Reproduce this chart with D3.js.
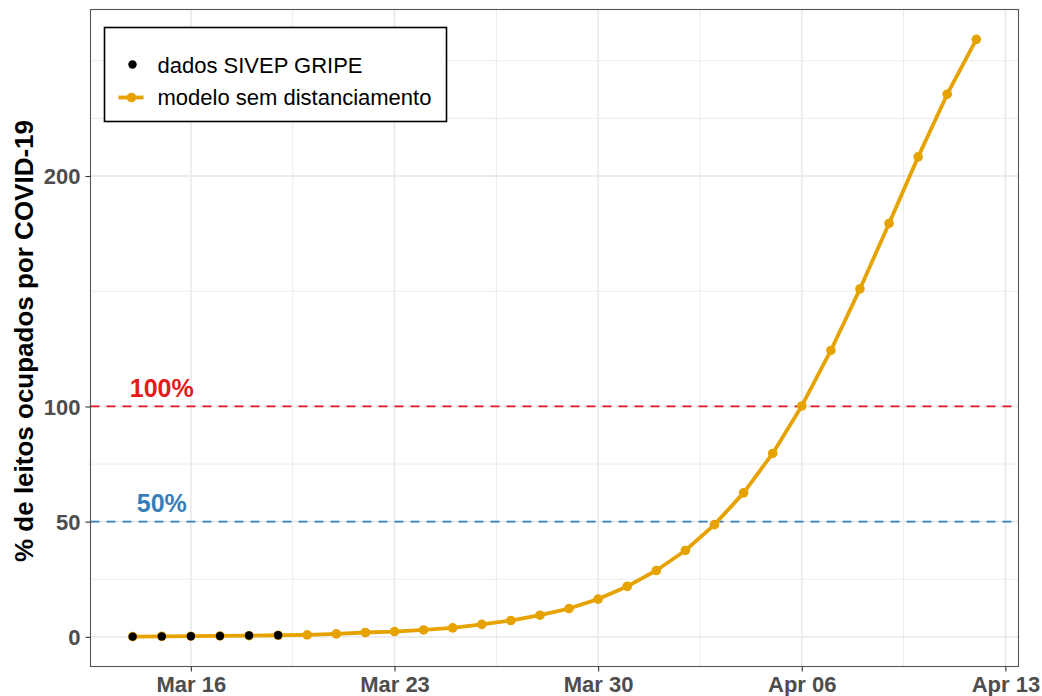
<!DOCTYPE html>
<html lang="pt">
<head>
  <meta charset="UTF-8">
  <script type="text/javascript" src="https://cdn.jsdelivr.net/npm/d3@7"></script>
  <title>Leitos ocupados</title>
  <style>
    body { margin: 0; background: #fff; }
    svg { display: block; font-family: "Liberation Sans", Arial, Helvetica, sans-serif; }
    .axis path { display: none; }
    .axis line { stroke: #333; stroke-width: 1.1; }
    .axis text { font-size: 22px; font-weight: bold; fill: #4d4d4d; }
  </style>
</head>
<body>
<div id="chart"></div>
<script>
  // dias da serie (14 mar a 12 abr 2020)
  var dates = ["2020-03-14","2020-03-15","2020-03-16","2020-03-17","2020-03-18","2020-03-19",
    "2020-03-20","2020-03-21","2020-03-22","2020-03-23","2020-03-24","2020-03-25","2020-03-26",
    "2020-03-27","2020-03-28","2020-03-29","2020-03-30","2020-03-31","2020-04-01","2020-04-02",
    "2020-04-03","2020-04-04","2020-04-05","2020-04-06","2020-04-07","2020-04-08","2020-04-09",
    "2020-04-10","2020-04-11","2020-04-12"];

  // modelo sem distanciamento
  var modelo = [0.1, 0.2, 0.3, 0.4, 0.5, 0.7, 0.9, 1.3, 1.9, 2.3, 3.0, 3.9, 5.4, 7.1, 9.4,
    12.3, 16.4, 21.9, 28.8, 37.5, 48.7, 62.5, 79.6, 100.2, 124.3, 151, 179.4, 208.3, 235.5, 259.3];

  // dados SIVEP GRIPE (primeiros dias)
  var obsDates = dates.slice(0, 6);
  var sivep = [0.1, 0.2, 0.3, 0.4, 0.6, 0.7];

  var yTicks = [0, 50, 100, 200];
  var xTicks = ["2020-03-16","2020-03-23","2020-03-30","2020-04-06","2020-04-13"];

  var refValues = [100, 50];
  var refLabels = ["100%", "50%"];
  var refLabelDate = "2020-03-15";

  var W = 1042, H = 696;
  var pLeft = 90.5, pRight = 1018.5, pTop = 9.5, pBottom = 666.5;

  var parse = d3.timeParse("%Y-%m-%d");

  var svg = d3.select("#chart").append("svg")
    .attr("width", W).attr("height", H);

  var t0 = parse(dates[0]), t1 = parse(dates[dates.length - 1]);
  var xPad = (t1 - t0) * 0.05;
  var x = d3.scaleTime()
    .domain([new Date(+t0 - xPad), new Date(+t1 + xPad)])
    .range([pLeft, pRight]);

  var yMin = d3.min(modelo.concat(sivep)), yMax = d3.max(modelo.concat(sivep));
  var yPad = (yMax - yMin) * 0.05;
  var y = d3.scaleLinear()
    .domain([yMin - yPad, yMax + yPad])
    .range([pBottom, pTop]);

  // grade menor
  var yMinor = [25, 75, 150, 225, 250];
  var xMinor = [];
  for (var i = 0; i < xTicks.length - 1; i++) {
    xMinor.push(new Date((+parse(xTicks[i]) + +parse(xTicks[i + 1])) / 2));
  }

  var grid = svg.append("g");
  grid.selectAll(".ymin").data(yMinor).enter().append("line")
    .attr("x1", pLeft).attr("x2", pRight)
    .attr("y1", function(d) { return y(d); }).attr("y2", function(d) { return y(d); })
    .attr("stroke", "#ebebeb").attr("stroke-width", 1);
  grid.selectAll(".xmin").data(xMinor).enter().append("line")
    .attr("y1", pTop).attr("y2", pBottom)
    .attr("x1", function(d) { return x(d); }).attr("x2", function(d) { return x(d); })
    .attr("stroke", "#ebebeb").attr("stroke-width", 1);
  grid.selectAll(".ymaj").data(yTicks).enter().append("line")
    .attr("x1", pLeft).attr("x2", pRight)
    .attr("y1", function(d) { return y(d); }).attr("y2", function(d) { return y(d); })
    .attr("stroke", "#ebebeb").attr("stroke-width", 1.8);
  grid.selectAll(".xmaj").data(xTicks).enter().append("line")
    .attr("y1", pTop).attr("y2", pBottom)
    .attr("x1", function(d) { return x(parse(d)); }).attr("x2", function(d) { return x(parse(d)); })
    .attr("stroke", "#ebebeb").attr("stroke-width", 1.8);

  // linhas de referencia
  var refColors = ["#e41a1c", "#377eb8"];
  svg.selectAll(".ref").data(refValues).enter().append("line")
    .attr("x1", pLeft).attr("x2", pRight)
    .attr("y1", function(d) { return y(d); }).attr("y2", function(d) { return y(d); })
    .attr("stroke", function(d, i) { return refColors[i]; })
    .attr("stroke-width", 1.8)
    .attr("stroke-dasharray", "9,7");

  svg.selectAll(".reflab").data(refValues).enter().append("text")
    .attr("x", x(parse(refLabelDate)))
    .attr("y", function(d) { return y(d) - 9.5; })
    .attr("text-anchor", "middle")
    .style("font-size", "25px").style("font-weight", "bold")
    .attr("fill", function(d, i) { return refColors[i]; })
    .text(function(d, i) { return refLabels[i]; });

  // modelo
  var orange = "#e6a300";
  var mdata = dates.map(function(d, i) { return { t: parse(d), v: modelo[i] }; });
  svg.append("path")
    .datum(mdata)
    .attr("fill", "none")
    .attr("stroke", orange)
    .attr("stroke-width", 3.8)
    .attr("stroke-linejoin", "round")
    .attr("d", d3.line().x(function(d) { return x(d.t); }).y(function(d) { return y(d.v); }));
  svg.selectAll(".mpt").data(mdata).enter().append("circle")
    .attr("cx", function(d) { return x(d.t); })
    .attr("cy", function(d) { return y(d.v); })
    .attr("r", 4.8)
    .attr("fill", orange);

  // dados observados
  svg.selectAll(".obs").data(obsDates).enter().append("circle")
    .attr("cx", function(d) { return x(parse(d)); })
    .attr("cy", function(d, i) { return y(sivep[i]); })
    .attr("r", 4.2)
    .attr("fill", "#000");

  // borda do painel
  svg.append("rect")
    .attr("x", pLeft).attr("y", pTop)
    .attr("width", pRight - pLeft).attr("height", pBottom - pTop)
    .attr("fill", "none").attr("stroke", "#555").attr("stroke-width", 1.1);

  // eixos
  svg.append("g").attr("class", "axis")
    .attr("transform", "translate(0," + pBottom + ")")
    .call(d3.axisBottom(x).tickValues(xTicks.map(parse))
      .tickFormat(d3.timeFormat("%b %d")).tickSize(5).tickPadding(5));

  svg.append("g").attr("class", "axis")
    .attr("transform", "translate(" + pLeft + ",0)")
    .call(d3.axisLeft(y).tickValues(yTicks).tickSize(5).tickPadding(5))
    .selectAll("text").attr("dy", "0.36em");

  svg.append("text")
    .attr("transform", "translate(33," + ((pTop + pBottom) / 2 + 3) + ") rotate(-90)")
    .attr("text-anchor", "middle")
    .style("font-size", "26px").style("font-weight", "bold")
    .attr("fill", "#000")
    .text("% de leitos ocupados por COVID-19");

  // legenda
  var lg = svg.append("g").attr("transform", "translate(104.5,27.5)");
  lg.append("rect").attr("width", 342).attr("height", 94)
    .attr("fill", "#fff").attr("stroke", "#000").attr("stroke-width", 1.6);
  lg.append("circle").attr("cx", 28).attr("cy", 37).attr("r", 4.2).attr("fill", "#000");
  lg.append("text").attr("x", 53).attr("y", 45)
    .style("font-size", "22px").attr("fill", "#000").text("dados SIVEP GRIPE");
  lg.append("line").attr("x1", 14).attr("x2", 39).attr("y1", 70).attr("y2", 70)
    .attr("stroke", orange).attr("stroke-width", 3.8);
  lg.append("circle").attr("cx", 27).attr("cy", 70).attr("r", 4.8).attr("fill", orange);
  lg.append("text").attr("x", 53).attr("y", 77)
    .style("font-size", "22px").attr("fill", "#000").text("modelo sem distanciamento");
</script>
</body>
</html>
